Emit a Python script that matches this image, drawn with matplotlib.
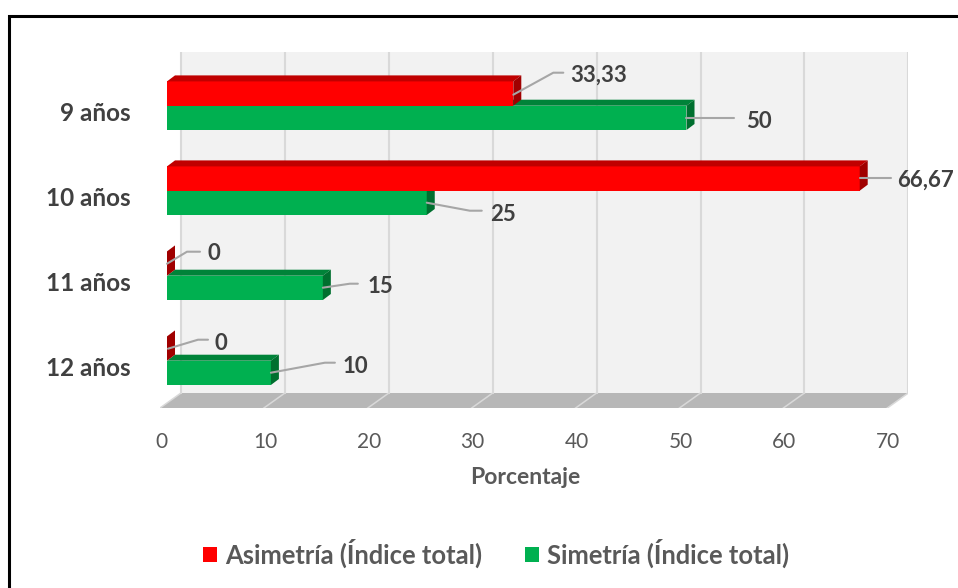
import matplotlib
matplotlib.use("Agg")
import matplotlib.pyplot as plt
from matplotlib.lines import Line2D
from matplotlib.patches import Patch, Polygon
from matplotlib.transforms import ScaledTranslation

categories = ["9 años", "10 años", "11 años", "12 años"]
asimetria = [33.33, 66.67, 0, 0]
simetria = [50, 25, 15, 10]
asimetria_labels = ["33,33", "66,67", "0", "0"]
simetria_labels = ["50", "25", "15", "10"]
x_ticks = [0, 10, 20, 30, 40, 50, 60, 70]

W, H = 958, 588
RED, RED_TOP, RED_SIDE = "#ff0000", "#c00000", "#a00000"
GREEN, GREEN_TOP, GREEN_SIDE = "#00b050", "#008339", "#006f2f"
TEXT = "#404040"
plt.rcParams["font.family"] = ["Lato", "DejaVu Sans"]

# pixels per data unit
SX, SY = 10.39, 85.0
X0_PX, Y0_PX = 167.0, 105.7   # where x=0 and y=0 (first category) land
BAR_H = 24.3 / SY
DX, DY = 8 / SX, 6 / SY       # bar depth
WALL_DX, WALL_DY = 14 / SX, 15 / SY

# leader lines and label centres, in pixels from the bar end at the red/green boundary
red_leaders = [
    ([(0, -11), (40, -33), (50, -33)], (85, -30)),
    ([(0, -13), (31, -13)], (66, -10)),
    ([(0, -12), (20, -24), (33, -24)], (47, -22)),
    ([(1, -12), (31, -21), (41, -21)], (54, -17)),
]
green_leaders = [
    ([(0, 12), (48, 12)], (72, 16)),
    ([(0, 12), (43, 20), (55, 20)], (76, 24)),
    ([(0, 12), (27, 8), (35, 8)], (58, 11)),
    ([(0, 12), (54, 2), (64, 2)], (84, 6)),
]

fig = plt.figure(figsize=(W / 100, H / 100), dpi=100)
left, right, top, bottom = 160, 908, 52, 408
ax = fig.add_axes([left / W, 1 - bottom / H, (right - left) / W, (bottom - top) / H])
ax.set_xlim((left - X0_PX) / SX, (right - X0_PX) / SX)
ax.set_ylim((bottom - Y0_PX) / SY, (top - Y0_PX) / SY)
for s in ax.spines.values():
    s.set_visible(False)
ax.patch.set_visible(False)

xmin, xmax = ax.get_xlim()
ymax, ymin = ax.get_ylim()
floor_back = ymax - WALL_DY
floor_front = ymax

# back wall, floor, gridlines
ax.add_patch(Polygon([(xmin + 21 / SX, ymin), (xmax, ymin), (xmax, floor_back), (xmin + 21 / SX, floor_back)],
                     fc="#f2f2f2", ec="none", zorder=1))
ax.add_patch(Polygon([(xmin, floor_front), (xmax - 21 / SX, floor_front), (xmax, floor_back), (xmin + 21 / SX, floor_back)],
                     fc="#b7b7b7", ec="none", zorder=1))
for t in x_ticks:
    ax.plot([t + WALL_DX, t + WALL_DX], [ymin, floor_back], color="#d9d9d9", lw=1.5, zorder=2)
    ax.plot([t - 7 / SX, t + WALL_DX], [floor_front, floor_back], color="#d9d9d9", lw=1.1, zorder=2)


def draw_bars(values, y_top, front, top_c, side):
    ax.barh([y + BAR_H / 2 for y in y_top], values, height=BAR_H, color=front, zorder=3)
    for v, y in zip(values, y_top):
        if v > 0:
            ax.add_patch(Polygon([(0, y), (DX, y - DY), (v + DX, y - DY), (v, y)], fc=top_c, ec="none", zorder=3))
        ax.add_patch(Polygon([(v, y), (v + DX, y - DY), (v + DX, y + BAR_H - DY), (v, y + BAR_H)],
                             fc=side, ec="none", zorder=3))


def draw_labels(values, labels, leaders):
    for i, (v, lab, (pts, txt)) in enumerate(zip(values, labels, leaders)):
        xs = [v + p[0] / SX for p in pts]
        ys = [i + p[1] / SY for p in pts]
        ax.plot(xs, ys, color="#a6a6a6", lw=1.5, zorder=4, solid_capstyle="round", clip_on=False)
        ax.text(v + txt[0] / SX, i + txt[1] / SY, lab, ha="center", va="center", fontsize=16,
                fontweight="bold", color=TEXT, zorder=5, clip_on=False)


n = range(len(categories))
red_y = [i - BAR_H for i in n]
green_y = [float(i) for i in n]
draw_bars(simetria, green_y, GREEN, GREEN_TOP, GREEN_SIDE)
draw_bars(asimetria, red_y, RED, RED_TOP, RED_SIDE)
draw_labels(asimetria, asimetria_labels, red_leaders)
draw_labels(simetria, simetria_labels, green_leaders)

ax.set_yticks([i + 6 / SY for i in n], categories, fontsize=17.5, fontweight="bold", color=TEXT)
ax.set_xticks(x_ticks, [str(t) for t in x_ticks], fontsize=15, color="#595959")
ax.tick_params(axis="y", length=0, pad=21)
ax.tick_params(axis="x", length=0, pad=17.5)
shift = ScaledTranslation(-6 / 100, 0, fig.dpi_scale_trans)
for lab in ax.get_xticklabels():
    lab.set_transform(lab.get_transform() + shift)

fig.text(525 / W, 1 - 478 / H, "Porcentaje", ha="center", va="center", fontsize=16.5,
         fontweight="bold", color="#595959")

handles = [Patch(fc=RED, label="Asimetría (Índice total)"), Patch(fc=GREEN, label="Simetría (Índice total)")]
fig.legend(handles=handles, loc="center", bbox_to_anchor=(496 / W, 1 - 553 / H), ncol=2, frameon=False,
           prop={"size": 18.4, "weight": "bold"}, labelcolor="#595959", handlelength=0.55, handleheight=0.55,
           handletextpad=0.3, columnspacing=1.7)

# outer frame, cut off at the right and bottom of the picture
fig.add_artist(Line2D([9 / W, 9 / W, 1], [0, 1 - 15.5 / H, 1 - 15.5 / H], color="black", lw=2.2,
                      transform=fig.transFigure, solid_joinstyle="miter"))

fig.savefig("out.png", dpi=100, facecolor="white")
